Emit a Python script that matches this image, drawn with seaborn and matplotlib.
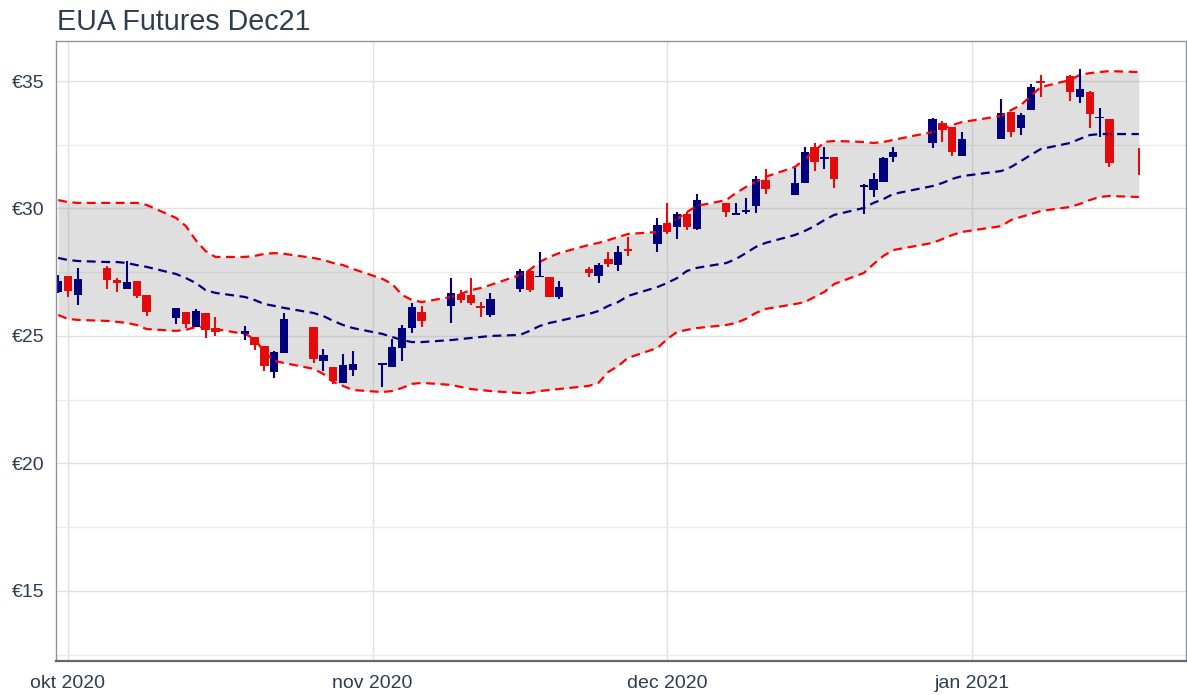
import matplotlib
matplotlib.use("Agg")
import matplotlib.pyplot as plt
import matplotlib.dates as mdates
from matplotlib.ticker import FixedLocator, FuncFormatter
import pandas as pd
import seaborn as sns

# trading days shown in the chart
trade_days = [
    "2020-09-30",
    "2020-10-01", "2020-10-02", "2020-10-05", "2020-10-06", "2020-10-07", "2020-10-08",
    "2020-10-09", "2020-10-12", "2020-10-13", "2020-10-14", "2020-10-15", "2020-10-16",
    "2020-10-19", "2020-10-20", "2020-10-21", "2020-10-22", "2020-10-23", "2020-10-26",
    "2020-10-27", "2020-10-28", "2020-10-29", "2020-10-30",
    "2020-11-02", "2020-11-03", "2020-11-04", "2020-11-05", "2020-11-06", "2020-11-09",
    "2020-11-10", "2020-11-11", "2020-11-12", "2020-11-13", "2020-11-16", "2020-11-17",
    "2020-11-18", "2020-11-19", "2020-11-20", "2020-11-23", "2020-11-24", "2020-11-25",
    "2020-11-26", "2020-11-27", "2020-11-30",
    "2020-12-01", "2020-12-02", "2020-12-03", "2020-12-04", "2020-12-07", "2020-12-08",
    "2020-12-09", "2020-12-10", "2020-12-11", "2020-12-14", "2020-12-15", "2020-12-16",
    "2020-12-17", "2020-12-18", "2020-12-21", "2020-12-22", "2020-12-23", "2020-12-24",
    "2020-12-28", "2020-12-29", "2020-12-30", "2020-12-31",
    "2021-01-04", "2021-01-05", "2021-01-06", "2021-01-07", "2021-01-08", "2021-01-11",
    "2021-01-12", "2021-01-13", "2021-01-14", "2021-01-15", "2021-01-18",
]

opens = [
    26.73,
    27.35, 26.61, 27.67, 27.20, 26.84, 27.16, 26.61, 25.71, 25.94, 25.35, 25.90, 25.31,
    25.08, 24.96, 24.61, 23.59, 24.33, 25.35, 24.02, 23.78, 23.16, 23.67,
    23.86, 23.78, 24.53, 25.31, 25.94, 26.18, 26.65, 26.61, 26.18, 25.82, 26.84, 27.55,
    27.30, 27.31, 26.53, 27.63, 27.35, 28.02, 27.78, 28.39, 28.61,
    29.43, 29.27, 29.78, 29.20, 30.22, 29.75, 29.88, 30.10, 31.12, 30.53, 31.00, 32.41,
    31.96, 32.02, 30.86, 30.73, 31.04, 32.02, 32.57, 33.35, 33.20, 32.06,
    32.73, 33.78, 33.16, 33.86, 34.98, 35.20, 34.37, 34.57, 33.53, 33.51, 32.37,
]
highs = [
    27.39,
    27.35, 27.67, 27.75, 27.27, 27.94, 27.16, 26.61, 26.10, 25.94, 26.06, 25.90, 25.75,
    25.39, 24.96, 24.61, 24.41, 25.90, 25.35, 24.49, 23.78, 24.29, 24.41,
    23.94, 24.88, 25.43, 26.30, 26.18, 27.27, 26.80, 27.27, 26.33, 26.69, 27.63, 27.60,
    28.29, 27.31, 27.16, 27.70, 27.86, 28.29, 28.53, 28.88, 29.63,
    30.22, 29.86, 29.86, 30.57, 30.22, 30.22, 30.41, 31.27, 31.55, 31.59, 32.41, 32.57,
    32.41, 32.02, 30.96, 31.39, 32.02, 32.41, 33.55, 33.43, 33.20, 33.00,
    34.29, 33.80, 33.75, 34.88, 35.24, 35.24, 35.47, 34.60, 33.94, 33.51, 32.37,
]
lows = [
    26.70,
    26.53, 26.22, 26.84, 26.73, 26.84, 26.49, 25.78, 25.47, 25.31, 25.35, 24.92, 25.00,
    24.84, 24.45, 23.63, 23.35, 24.33, 23.94, 23.63, 23.12, 23.16, 23.43,
    23.00, 23.78, 24.02, 25.12, 25.35, 25.51, 26.29, 26.22, 25.75, 25.75, 26.73, 26.73,
    27.30, 26.53, 26.45, 27.31, 27.08, 27.70, 27.55, 28.14, 28.29,
    29.00, 28.80, 29.16, 29.16, 29.67, 29.74, 29.78, 29.82, 30.57, 30.53, 31.00, 31.47,
    31.55, 30.80, 29.78, 30.45, 31.04, 31.82, 32.37, 32.61, 32.06, 32.06,
    32.73, 32.80, 32.88, 33.86, 34.37, 34.22, 34.14, 33.16, 32.80, 31.63, 31.31,
]
closes = [
    27.16,
    26.76, 27.24, 27.20, 27.08, 27.12, 26.57, 25.94, 26.10, 25.47, 25.98, 25.24, 25.16,
    25.20, 24.65, 23.82, 24.37, 25.67, 24.10, 24.25, 23.24, 23.86, 23.90,
    23.90, 24.57, 25.31, 26.14, 25.59, 26.69, 26.41, 26.29, 26.10, 26.45, 27.55, 26.80,
    27.34, 26.53, 26.92, 27.47, 27.78, 27.82, 28.29, 28.35, 29.35,
    29.08, 29.78, 29.27, 30.33, 29.86, 29.79, 29.92, 31.16, 30.76, 31.00, 32.22, 31.82,
    32.00, 31.16, 30.90, 31.16, 31.98, 32.22, 33.51, 33.08, 32.22, 32.73,
    33.75, 33.00, 33.67, 34.76, 34.94, 34.57, 34.69, 33.71, 33.57, 31.78, 31.31,
]

# bollinger bands
band_upper = [
    30.33,
    30.25, 30.22, 30.22, 30.22, 30.22, 30.22, 30.14, 29.63, 29.31, 28.76, 28.33, 28.10,
    28.10, 28.14, 28.22, 28.25, 28.22, 28.06, 27.98, 27.86, 27.78, 27.63,
    27.24, 27.04, 26.61, 26.41, 26.33, 26.53, 26.65, 26.80, 26.88, 27.00, 27.39, 27.59,
    27.90, 28.10, 28.25, 28.57, 28.65, 28.76, 28.88, 29.00, 29.08,
    29.35, 29.59, 29.86, 30.10, 30.33, 30.61, 30.84, 31.04, 31.24, 31.63, 31.94, 32.25,
    32.61, 32.65, 32.61, 32.57, 32.61, 32.69, 33.00, 33.12, 33.27, 33.39,
    33.63, 33.86, 34.06, 34.41, 34.76, 35.04, 35.24, 35.31, 35.35, 35.39, 35.35,
]
band_mid = [
    28.06,
    27.98, 27.94, 27.90, 27.90, 27.86, 27.78, 27.71, 27.43, 27.27, 27.08, 26.80, 26.69,
    26.53, 26.41, 26.25, 26.18, 26.10, 25.90, 25.78, 25.59, 25.43, 25.31,
    25.08, 24.96, 24.84, 24.76, 24.76, 24.84, 24.88, 24.92, 24.96, 25.00, 25.04, 25.20,
    25.39, 25.51, 25.59, 25.86, 25.98, 26.18, 26.33, 26.57, 26.92,
    27.08, 27.27, 27.55, 27.67, 27.86, 28.02, 28.25, 28.49, 28.65, 28.96, 29.12, 29.31,
    29.55, 29.75, 30.02, 30.22, 30.37, 30.57, 30.88, 31.00, 31.16, 31.27,
    31.47, 31.63, 31.86, 32.10, 32.33, 32.57, 32.73, 32.88, 32.92, 32.92, 32.92,
]
band_lower = [
    25.82,
    25.67, 25.63, 25.59, 25.55, 25.51, 25.43, 25.27, 25.20, 25.24, 25.35, 25.35, 25.27,
    25.08, 24.88, 24.37, 24.02, 23.94, 23.71, 23.51, 23.20, 23.04, 22.88,
    22.80, 22.84, 22.96, 23.12, 23.16, 23.08, 23.00, 22.92, 22.88, 22.84, 22.76, 22.76,
    22.84, 22.88, 22.92, 23.04, 23.16, 23.59, 23.82, 24.14, 24.53,
    24.88, 25.16, 25.24, 25.31, 25.43, 25.51, 25.67, 25.90, 26.06, 26.25, 26.33, 26.53,
    26.73, 27.04, 27.47, 27.82, 28.14, 28.37, 28.65, 28.80, 28.96, 29.08,
    29.31, 29.55, 29.67, 29.78, 29.90, 30.06, 30.18, 30.33, 30.45, 30.49, 30.45,
]

month_ticks = ["2020-10-01", "2020-11-01", "2020-12-01", "2021-01-01"]
month_labels = ["okt 2020", "nov 2020", "dec 2020", "jan 2021"]
y_major = [15, 20, 25, 30, 35]
y_minor = [12.5, 17.5, 22.5, 27.5, 32.5]

df = pd.DataFrame({
    "date": pd.to_datetime(trade_days),
    "open": opens, "high": highs, "low": lows, "close": closes,
    "upper": band_upper, "mid": band_mid, "lower": band_lower,
})

UP = "#00007f"
DOWN = "#e30b0b"
TXT = "#2c3e50"

sns.set_theme(style="white")
plt.rcParams["font.family"] = ["Liberation Sans", "DejaVu Sans"]

fig = plt.figure(figsize=(11.87, 6.95), dpi=100)
ax = fig.add_axes([56 / 1187, 1 - 661 / 695, 1130 / 1187, 620 / 695])
ax.set_axisbelow(True)

# band area
ax.fill_between(df["date"], df["lower"], df["upper"], color="grey", alpha=0.25, lw=0)
for col, c in [("upper", "red"), ("lower", "red"), ("mid", UP)]:
    sns.lineplot(data=df, x="date", y=col, ax=ax, color=c, lw=1.6)
    ax.lines[-1].set_dashes((4, 2.5))

# candles
up = df["close"] >= df["open"]
colors = [UP if u else DOWN for u in up]
ax.vlines(df["date"], df["low"], df["high"], colors=colors, lw=1.5)
body_lo = df[["open", "close"]].min(axis=1)
body_h = (df["close"] - df["open"]).abs().clip(lower=0.07)
widths = [0.85] * len(df)
widths[-1] = 0  # last body falls outside the scale in the original, only the wick shows
ax.bar(df["date"], body_h, bottom=body_lo, width=widths, color=colors, lw=0)

# axes
x0 = mdates.date2num(pd.Timestamp("2020-10-01")) - 1.22
x1 = mdates.date2num(pd.Timestamp("2021-01-01")) + 21.8
ax.set_xlim(x0, x1)
ax.set_ylim(12.25, 36.57)
ax.set_xticks(pd.to_datetime(month_ticks))
ax.set_xticklabels(month_labels)
ax.yaxis.set_major_locator(FixedLocator(y_major))
ax.yaxis.set_minor_locator(FixedLocator(y_minor))
ax.yaxis.set_major_formatter(FuncFormatter(lambda v, p: f"€{v:.0f}"))
ax.set_xlabel("")
ax.set_ylabel("")

ax.grid(True, which="major", color="#e2e2e2", lw=1)
ax.grid(True, which="minor", axis="y", color="#ebebeb", lw=1)
ax.tick_params(axis="both", which="major", length=4, width=1, color="#8c959f",
               labelsize=14, labelcolor=TXT, pad=4)
ax.tick_params(axis="x", pad=6)
ax.tick_params(which="minor", length=0)

for s in ["left", "top", "right"]:
    ax.spines[s].set_color("#8c959f")
    ax.spines[s].set_linewidth(1)
ax.spines["bottom"].set_color("#5f6872")
ax.spines["bottom"].set_linewidth(1.6)

fig.text(57 / 1187, 1 - 30 / 695, "EUA Futures Dec21", fontsize=20.6, color=TXT,
         ha="left", va="baseline")

fig.savefig("out.png", dpi=100)
